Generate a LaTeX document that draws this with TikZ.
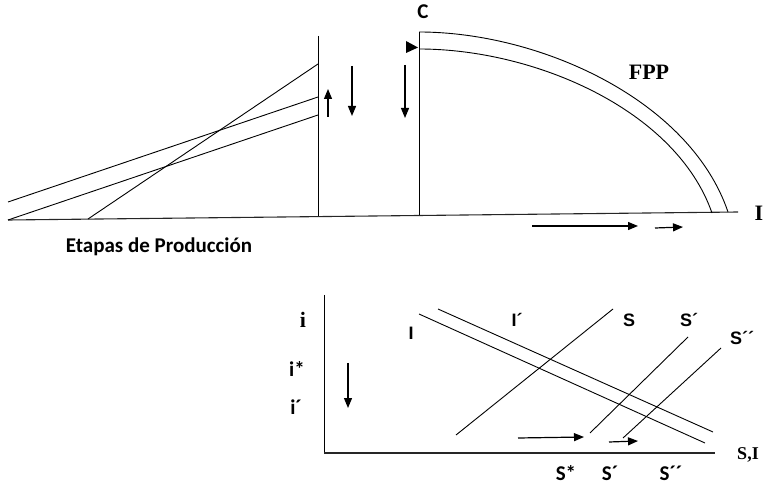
\documentclass[tikz,border=0pt]{standalone}
\usepackage{fontspec}
\setmainfont{Liberation Serif}
\newfontfamily\carl{Carlito}
\newfontfamily\arl{Liberation Sans}
\usetikzlibrary{arrows.meta}
\tikzset{
  ln/.style={line width=0.9pt, black},
  axis/.style={line width=1.1pt, black!85},
  arr/.style={line width=1.2pt, -{Triangle[length=10pt,width=8pt]}},
  serlab/.style={font=\fontsize{22}{24}\selectfont\bfseries, inner sep=0pt},
  carlab/.style={font=\fontsize{21}{23}\carl\bfseries, inner sep=0pt},
  arlab/.style={font=\fontsize{18}{20}\arl\bfseries, inner sep=0pt}
}
\begin{document}
\begin{tikzpicture}[x=1pt,y=-1pt]
\useasboundingbox (0,0) rectangle (766,486);
% ---------- top diagram ----------
\draw[axis] (8,220) -- (738,212);
\draw[ln] (318,36) -- (318,216);
\draw[ln] (419,32) -- (419,215);
% rays
\draw[ln] (8,202) -- (318,97);
\draw[ln] (8,220) -- (318,115);
\draw[ln] (88,219) -- (318,64);
% arrows near left axis
\draw[arr] (328,117) -- (328,89);
\draw[arr] (352,66) -- (352,116);
\draw[arr] (405,65) -- (405,118);
% FPP curves
\draw[ln] (419,32) .. controls (540,32) and (690,100) .. (728,212);
\draw[ln] (419,49) .. controls (535,49) and (676,110) .. (712,213);
\fill (406,41) -- (418,47.5) -- (406,53) -- cycle;
% bottom arrows
\draw[arr] (532,226) -- (638,226);
\draw[arr] (655,228) -- (683,227);
% labels
\node[carlab] (c) at (423,12) {C};
\node[serlab] (fpp) at (649,72) {FPP};
\node[serlab] (iax) at (759,213) {I};
\node[carlab] (etapas) at (159,247) {Etapas de Producción};
% ---------- bottom diagram ----------
\draw[ln] (324,295) -- (324,453);
\draw[axis] (324,453) -- (715,453);
\draw[ln] (419,314) -- (705,443);
\draw[ln] (438,309) -- (713,432);
\draw[ln] (456,435) -- (613,309);
\draw[ln] (590,433) -- (688,337);
\draw[ln] (721,348) -- (623,438);
\draw[arr] (348,363) -- (348,408);
\draw[arr] (518,438) -- (584,437);
\draw[arr] (609,442) -- (638,441);
\node[serlab] (i) at (303,320) {i};
\node[carlab] (istar) at (297,369) {i*};
\node[carlab] (iprime) at (296,407) {i´};
\node[arlab] (Il) at (411,333) {I};
\node[arlab] (Ip) at (517,320) {I´};
\node[arlab] (Sl) at (629,320) {S};
\node[arlab] (Sp) at (689,320) {S´};
\node[arlab] (Spp) at (742,338) {S´´};
\node[font=\fontsize{18}{20}\selectfont\bfseries, inner sep=0pt, anchor=base] (SI) at (748,459) {S,I};
\node[carlab, anchor=base] (Sstar) at (566,480) {S*};
\node[carlab, anchor=base] (Sp2) at (610,480) {S´};
\node[carlab, anchor=base] (Spp2) at (671,480) {S´´};
\end{tikzpicture}
\end{document}
